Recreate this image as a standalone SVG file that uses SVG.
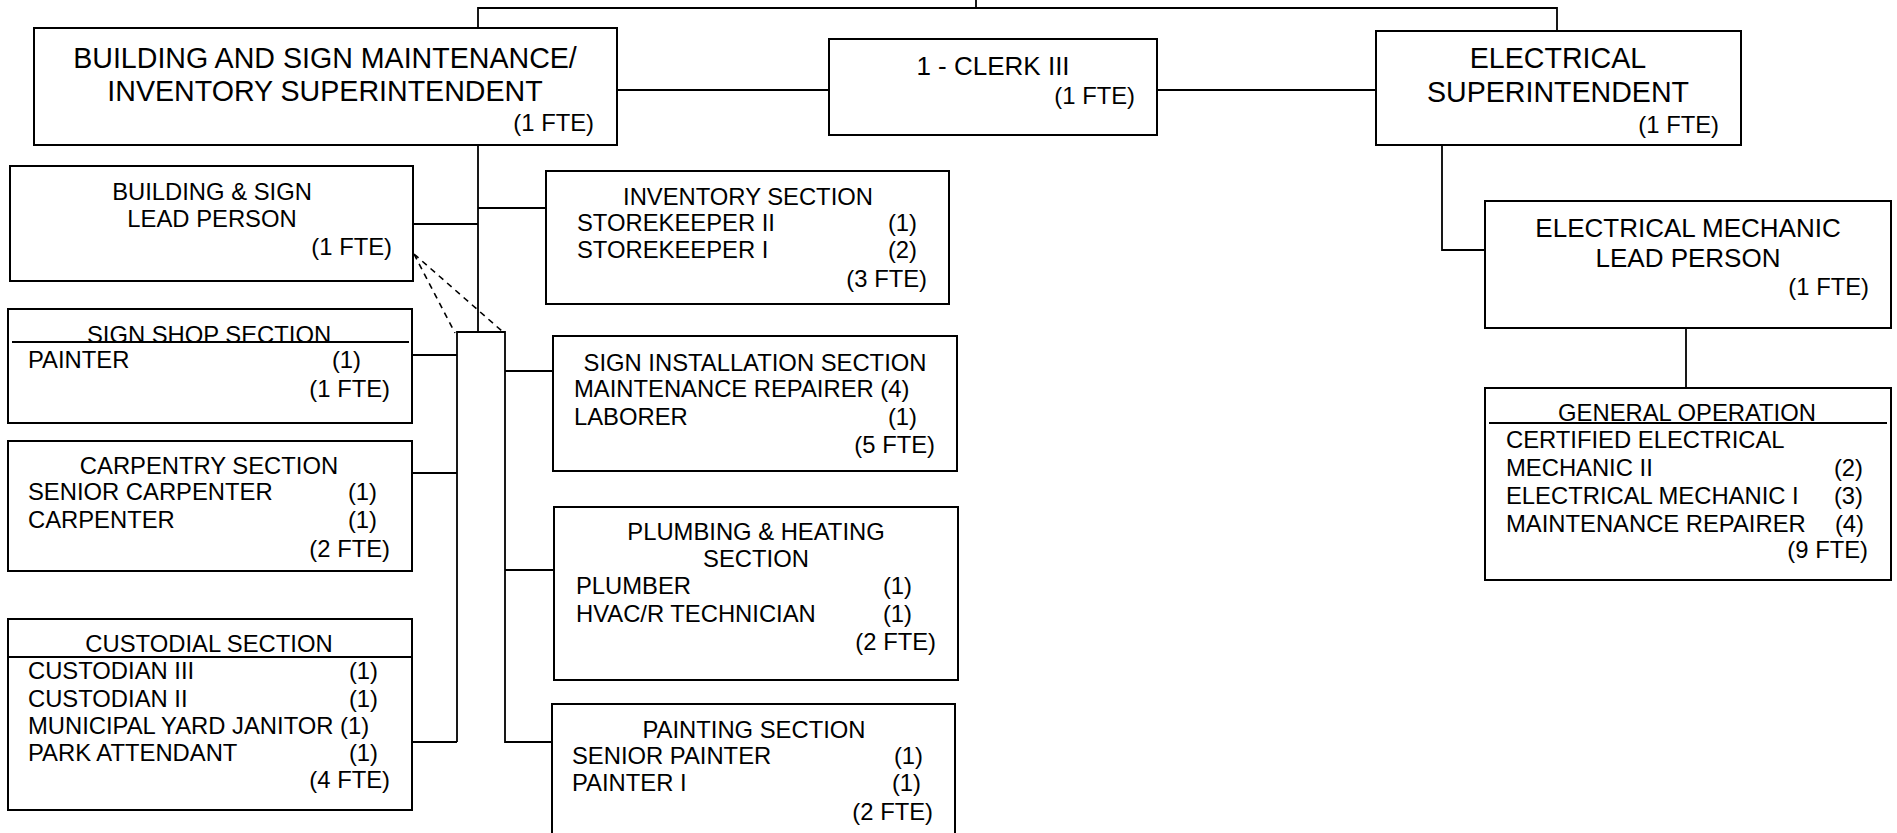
<svg xmlns="http://www.w3.org/2000/svg" width="1897" height="833" viewBox="0 0 1897 833">
<style>
  .box { fill: #fff; stroke: #000; stroke-width: 2; }
  .ln { fill: none; stroke: #000; stroke-width: 1.8; }
  .dash { fill: none; stroke: #000; stroke-width: 1.6; stroke-dasharray: 6 5; }
  text { font-family: "Liberation Sans", Arial, sans-serif; fill: #000; }
  .t29 { font-size: 28.6px; }
  .t26 { font-size: 26px; }
  .t24 { font-size: 23.8px; }
  .c { text-anchor: middle; }
  .e { text-anchor: end; }
</style>
<rect width="1897" height="833" fill="#fff"/>
<g id="connectors">
  <path class="ln" d="M976 0 V8 M478 28 V8 H1557 V31"/>
  <path class="ln" d="M617 90 H829 M1157 90 H1376"/>
  <path class="ln" d="M478 145 V332 M413 224 H478 M478 208 H949"/>
  <path class="ln" d="M457 742 V332 H505 V742 H950"/>
  <path class="ln" d="M412 355 H457 M13 473 H457 M412 742 H457"/>
  <path class="ln" d="M505 371 H953 M505 570 H958"/>
  <path class="ln" d="M1442 145 V250 H1485 M1686 328 V388"/>
  <path class="dash" d="M414 254 L455 333 M414 254 L503 332"/>
</g>
<g id="bldg-super">
  <rect class="box" x="34" y="28" width="583" height="117"/>
  <text class="t29 c" x="325" y="68">BUILDING AND SIGN MAINTENANCE/</text>
  <text class="t29 c" x="325" y="101">INVENTORY SUPERINTENDENT</text>
  <text class="t24 e" x="594" y="131">(1 FTE)</text>
</g>
<g id="clerk">
  <rect class="box" x="829" y="39" width="328" height="96"/>
  <text class="t26 c" x="993" y="75">1 - CLERK III</text>
  <text class="t24 e" x="1135" y="104">(1 FTE)</text>
</g>
<g id="elec-super">
  <rect class="box" x="1376" y="31" width="365" height="114"/>
  <text class="t29 c" x="1558" y="68">ELECTRICAL</text>
  <text class="t29 c" x="1558" y="102">SUPERINTENDENT</text>
  <text class="t24 e" x="1719" y="133">(1 FTE)</text>
</g>
<g id="bldg-lead">
  <rect class="box" x="10" y="166" width="403" height="115"/>
  <text class="t24 c" x="212" y="200">BUILDING &amp; SIGN</text>
  <text class="t24 c" x="212" y="227">LEAD PERSON</text>
  <text class="t24 e" x="392" y="255">(1 FTE)</text>
</g>
<g id="inventory">
  <rect class="box" x="546" y="171" width="403" height="133"/>
  <text class="t24 c" x="748" y="205">INVENTORY SECTION</text>
  <text class="t24" x="577" y="231">STOREKEEPER II</text>
  <text class="t24 e" x="917" y="231">(1)</text>
  <text class="t24" x="577" y="258">STOREKEEPER I</text>
  <text class="t24 e" x="917" y="258">(2)</text>
  <text class="t24 e" x="927" y="287">(3 FTE)</text>
</g>
<g id="sign-shop">
  <rect class="box" x="8" y="309" width="404" height="114"/>
  <line class="ln" x1="12" y1="342" x2="409" y2="342"/>
  <text class="t24 c" x="209" y="343">SIGN SHOP SECTION</text>
  <text class="t24" x="28" y="368">PAINTER</text>
  <text class="t24 e" x="361" y="368">(1)</text>
  <text class="t24 e" x="390" y="397">(1 FTE)</text>
</g>
<g id="carpentry">
  <rect class="box" x="8" y="441" width="404" height="130"/>
  <text class="t24 c" x="209" y="474">CARPENTRY SECTION</text>
  <text class="t24" x="28" y="500">SENIOR CARPENTER</text>
  <text class="t24 e" x="377" y="500">(1)</text>
  <text class="t24" x="28" y="528">CARPENTER</text>
  <text class="t24 e" x="377" y="528">(1)</text>
  <text class="t24 e" x="390" y="557">(2 FTE)</text>
</g>
<g id="custodial">
  <rect class="box" x="8" y="619" width="404" height="191"/>
  <line class="ln" x1="8" y1="657" x2="412" y2="657"/>
  <text class="t24 c" x="209" y="652">CUSTODIAL SECTION</text>
  <text class="t24" x="28" y="679">CUSTODIAN III</text>
  <text class="t24 e" x="378" y="679">(1)</text>
  <text class="t24" x="28" y="707">CUSTODIAN II</text>
  <text class="t24 e" x="378" y="707">(1)</text>
  <text class="t24" x="28" y="734">MUNICIPAL YARD JANITOR (1)</text>
  <text class="t24" x="28" y="761">PARK ATTENDANT</text>
  <text class="t24 e" x="378" y="761">(1)</text>
  <text class="t24 e" x="390" y="788">(4 FTE)</text>
</g>
<g id="sign-install">
  <rect class="box" x="553" y="336" width="404" height="135"/>
  <text class="t24 c" x="755" y="371">SIGN INSTALLATION SECTION</text>
  <text class="t24" x="574" y="397">MAINTENANCE REPAIRER (4)</text>
  <text class="t24" x="574" y="425">LABORER</text>
  <text class="t24 e" x="917" y="425">(1)</text>
  <text class="t24 e" x="935" y="453">(5 FTE)</text>
</g>
<g id="plumbing">
  <rect class="box" x="554" y="507" width="404" height="173"/>
  <text class="t24 c" x="756" y="540">PLUMBING &amp; HEATING</text>
  <text class="t24 c" x="756" y="567">SECTION</text>
  <text class="t24" x="576" y="594">PLUMBER</text>
  <text class="t24 e" x="912" y="594">(1)</text>
  <text class="t24" x="576" y="622">HVAC/R TECHNICIAN</text>
  <text class="t24 e" x="912" y="622">(1)</text>
  <text class="t24 e" x="936" y="650">(2 FTE)</text>
</g>
<g id="painting">
  <rect class="box" x="552" y="704" width="403" height="140"/>
  <text class="t24 c" x="754" y="738">PAINTING SECTION</text>
  <text class="t24" x="572" y="764">SENIOR PAINTER</text>
  <text class="t24 e" x="923" y="764">(1)</text>
  <text class="t24" x="572" y="791">PAINTER I</text>
  <text class="t24 e" x="921" y="791">(1)</text>
  <text class="t24 e" x="933" y="820">(2 FTE)</text>
</g>
<g id="elec-lead">
  <rect class="box" x="1485" y="201" width="406" height="127"/>
  <text class="t26 c" x="1688" y="237">ELECTRICAL MECHANIC</text>
  <text class="t26 c" x="1688" y="267">LEAD PERSON</text>
  <text class="t24 e" x="1869" y="295">(1 FTE)</text>
</g>
<g id="general-op">
  <rect class="box" x="1485" y="388" width="406" height="192"/>
  <line class="ln" x1="1489" y1="423" x2="1887" y2="423"/>
  <text class="t24 c" x="1687" y="421">GENERAL OPERATION</text>
  <text class="t24" x="1506" y="448">CERTIFIED ELECTRICAL</text>
  <text class="t24" x="1506" y="476">MECHANIC II</text>
  <text class="t24 e" x="1863" y="476">(2)</text>
  <text class="t24" x="1506" y="504">ELECTRICAL MECHANIC I</text>
  <text class="t24 e" x="1863" y="504">(3)</text>
  <text class="t24" x="1506" y="532">MAINTENANCE REPAIRER</text>
  <text class="t24 e" x="1864" y="532">(4)</text>
  <text class="t24 e" x="1868" y="558">(9 FTE)</text>
</g>
</svg>
